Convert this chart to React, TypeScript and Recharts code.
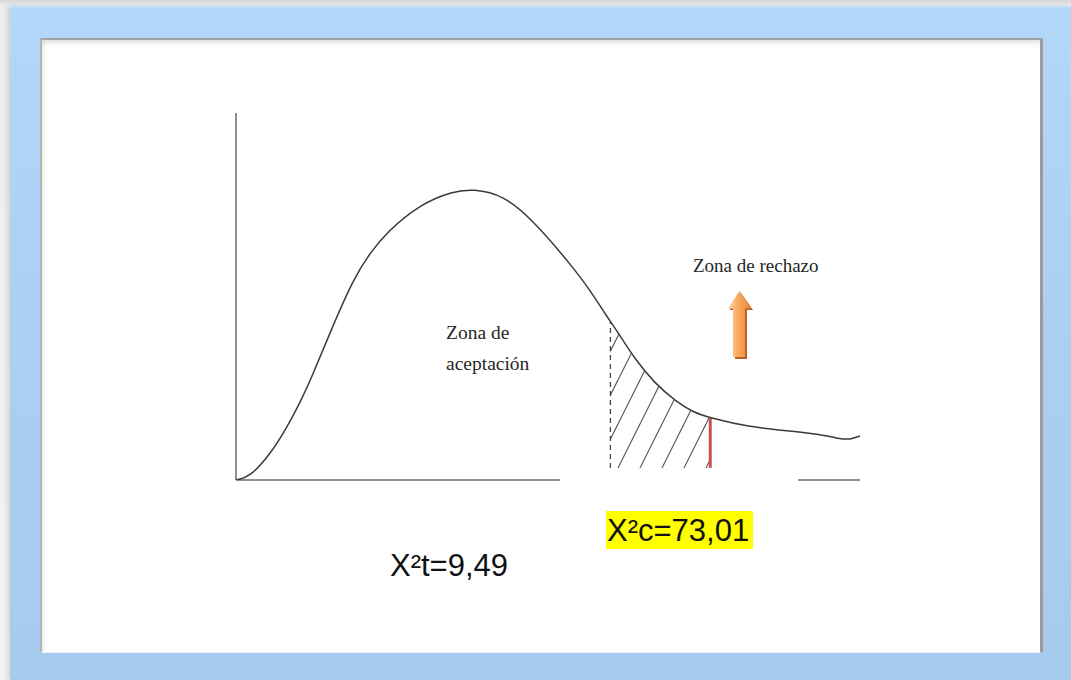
import React from "react";
import { ComposedChart, Line, Area, XAxis, YAxis, ReferenceLine } from "recharts";

// Curve of the chi-square density (arbitrary units 0-100)
const curveX = [0, 2.2, 5.4, 8.2, 10.3, 11.9, 15.1, 18.8, 21.5, 24.2, 29.5, 34.8, 38.0, 42.8, 47.6, 54.0, 56.7, 59.5, 60.0, 61.1, 64.1, 67.1, 70.4, 73.2, 76.0, 82.4, 87.2, 93.1, 96.8, 98.4, 100];
const curveY = [0, 0.8, 6.8, 14.4, 21.3, 27.0, 40.3, 54.8, 61.9, 67.6, 75.2, 78.7, 79.3, 77.7, 70.8, 58.0, 51.8, 44.4, 43.2, 40.5, 32.5, 26.4, 21.5, 18.5, 16.9, 14.4, 13.6, 12.6, 11.2, 11.0, 12.0];

// Markers
const criticalTable = 60; // X²t position (dashed line)
const criticalCalc = 76; // X²c position (red line)
const hatchFloor = 3.3;
const axisGapStart = 51.9;
const axisGapEnd = 90.1;

// Labels
const labelRechazo = "Zona de rechazo";
const labelAcept1 = "Zona de";
const labelAcept2 = "aceptación";
const labelXt = "X²t=9,49";
const labelXc = "X²c=73,01";

const data = curveX.map((x, i) => ({
  x,
  y: curveY[i],
  hatch: x >= criticalTable && x <= criticalCalc ? [hatchFloor, curveY[i]] : null,
}));

const curveAt = (xv: number) => {
  const i = curveX.indexOf(xv);
  return curveY[i];
};

export default function App() {
  return (
    <div
      style={{
        position: "absolute",
        left: 0,
        top: 0,
        width: 1071,
        height: 680,
        overflow: "hidden",
        background: "linear-gradient(180deg,#d6d6d6 0px,#eeeeee 6px,#f4f4f4 100%)",
      }}
    >
      {/* blue frame */}
      <div
        style={{
          position: "absolute",
          left: 10,
          top: 6,
          width: 1061,
          height: 674,
          background: "linear-gradient(180deg,#bfe0fb 0px,#b2d7f8 4px,#aacff3 50%,#a6cbef 100%)",
          boxShadow: "-3px 0 5px rgba(0,0,0,0.12)",
        }}
      />
      {/* inner white panel */}
      <div
        style={{
          position: "absolute",
          left: 40,
          top: 38,
          width: 1003,
          height: 615,
          boxSizing: "border-box",
          background: "#ffffff",
          borderTop: "2px solid #a3a3a3",
          borderLeft: "2px solid #b4b4b4",
          borderRight: "3px solid #9c9c9c",
          borderBottom: "1px solid #e6f2fc",
          boxShadow: "inset 0 6px 6px -4px rgba(0,0,0,0.15), inset 5px 0 6px -4px rgba(0,0,0,0.1)",
        }}
      />
      <div style={{ position: "absolute", left: 0, top: 0 }}>
        <ComposedChart
          width={1071}
          height={680}
          data={data}
          margin={{ top: 113, right: 211, bottom: 200, left: 236 }}
        >
          <defs>
            <pattern id="hatch" patternUnits="userSpaceOnUse" x={2} y={28} width={22} height={44}>
              <line x1={0} y1={44} x2={22} y2={0} stroke="#555555" strokeWidth={1.2} />
              <line x1={-1} y1={2} x2={0} y2={0} stroke="#555555" strokeWidth={1.2} />
              <line x1={22} y1={44} x2={23} y2={42} stroke="#555555" strokeWidth={1.2} />
            </pattern>
          </defs>
          <XAxis type="number" dataKey="x" domain={[0, 100]} hide allowDataOverflow />
          <YAxis type="number" domain={[0, 100]} hide allowDataOverflow />
          <Area
            type="monotone"
            dataKey="hatch"
            stroke="none"
            fill="url(#hatch)"
            fillOpacity={1}
            isAnimationActive={false}
            connectNulls={false}
            dot={false}
            activeDot={false}
          />
          <ReferenceLine
            segment={[{ x: 0, y: 0 }, { x: 0, y: 100 }]}
            stroke="#8f8f8f"
            strokeWidth={2}
            ifOverflow="visible"
          />
          <ReferenceLine
            segment={[{ x: 0, y: 0 }, { x: axisGapStart, y: 0 }]}
            stroke="#8f8f8f"
            strokeWidth={2}
            ifOverflow="visible"
          />
          <ReferenceLine
            segment={[{ x: axisGapEnd, y: 0 }, { x: 100, y: 0 }]}
            stroke="#8f8f8f"
            strokeWidth={2}
            ifOverflow="visible"
          />
          <ReferenceLine
            segment={[{ x: criticalTable, y: hatchFloor }, { x: criticalTable, y: curveAt(criticalTable) }]}
            stroke="#444444"
            strokeWidth={1.3}
            strokeDasharray="5 4"
            ifOverflow="visible"
          />
          <ReferenceLine
            segment={[{ x: criticalCalc, y: hatchFloor }, { x: criticalCalc, y: curveAt(criticalCalc) }]}
            stroke="#c9504f"
            strokeWidth={3}
            ifOverflow="visible"
          />
          <Line
            type="basis"
            dataKey="y"
            stroke="#3a3a3a"
            strokeWidth={1.5}
            dot={false}
            activeDot={false}
            isAnimationActive={false}
          />
        </ComposedChart>
      </div>
      {/* annotations */}
      <svg
        width={1071}
        height={680}
        style={{ position: "absolute", left: 0, top: 0, pointerEvents: "none" }}
      >
        <defs>
          <linearGradient id="arrowGrad" x1="0" y1="0" x2="1" y2="0">
            <stop offset="0%" stopColor="#fdd6ac" />
            <stop offset="45%" stopColor="#f9a85e" />
            <stop offset="100%" stopColor="#ec8736" />
          </linearGradient>
        </defs>
        <text x={693} y={272} fontFamily="'Liberation Serif', 'Times New Roman', serif" fontSize={19} fill="#262626">
          {labelRechazo}
        </text>
        <text x={446} y={339} fontFamily="'Liberation Serif', 'Times New Roman', serif" fontSize={19.5} fill="#262626">
          {labelAcept1}
        </text>
        <text x={446} y={370} fontFamily="'Liberation Serif', 'Times New Roman', serif" fontSize={19.5} fill="#262626">
          {labelAcept2}
        </text>
        <polygon
          points="741,293 753,310 747,310 747,359 735,359 735,310 729.5,310"
          fill="#b8612a"
        />
        <polygon
          points="739.5,291 751,308.5 745,308.5 745,357 733,357 733,308.5 728,308.5"
          fill="url(#arrowGrad)"
        />
        <text x={390} y={576} fontFamily="'Liberation Sans', Arial, sans-serif" fontSize={31} fill="#111111">
          {labelXt}
        </text>
        <rect x={606} y={511} width={147} height={38} fill="#ffff00" />
        <text x={607} y={541} fontFamily="'Liberation Sans', Arial, sans-serif" fontSize={31} fill="#111111">
          {labelXc}
        </text>
      </svg>
    </div>
  );
}
